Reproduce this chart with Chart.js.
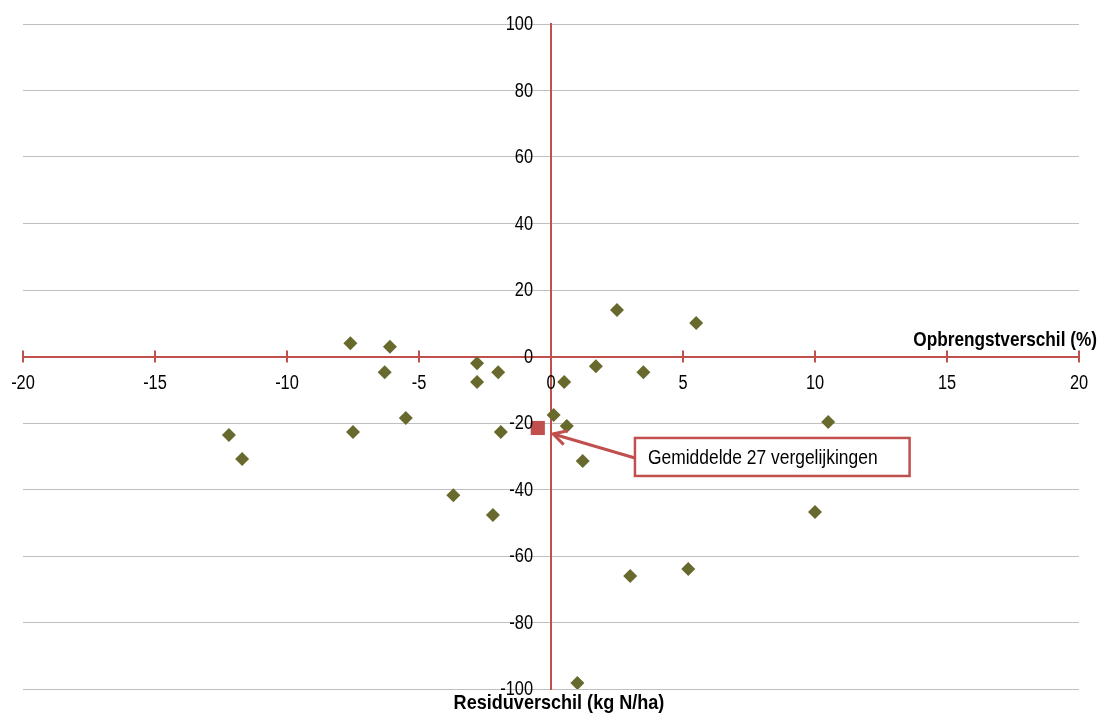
<!DOCTYPE html>
<html>
<head>
<meta charset="utf-8">
<script src="https://cdn.jsdelivr.net/npm/chart.js@4.4.0/dist/chart.umd.min.js"></script>
<style>
  html, body { margin: 0; padding: 0; background: #fff; }
  #wrap { width: 1102px; height: 715px; }
</style>
</head>
<body>
<div id="wrap"><canvas id="scatter"></canvas></div>
<script>
// Opbrengstverschil (%) vs Residuverschil (kg N/ha)
const xValues = [-7.6, -6.1, -6.3, -2.8, -2.8, -2.0, -12.2, -11.7, -7.5, -5.5, -1.9, -3.7, -2.2,
                 0.5, 1.7, 2.5, 3.5, 5.5, 0.1, 0.6, 1.2, 10.5, 10.0, 3.0, 5.2, 1.0];
const yValues = [4.0, 2.9, -4.7, -2.0, -7.7, -4.7, -23.6, -30.8, -22.7, -18.5, -22.7, -41.7, -47.7,
                 -7.7, -2.9, 14.0, -4.7, 10.1, -17.6, -20.9, -31.4, -19.7, -46.8, -66.0, -63.9, -98.2];
const meanX = -0.5;
const meanY = -21.5;
const xTicks = [-20, -15, -10, -5, 0, 5, 10, 15, 20];
const yTicks = [-100, -80, -60, -40, -20, 0, 20, 40, 60, 80, 100];

const xTitle = "Opbrengstverschil (%)";
const yTitle = "Residuverschil (kg N/ha)";
const noteText = "Gemiddelde 27 vergelijkingen";

const red = "#c0504d";
const olive = "#676a2c";
const fontFam = "'Liberation Sans', Arial, sans-serif";

const points = xValues.map((x, i) => ({ x: x, y: yValues[i] }));

// no narrow font installed, so squeeze the text horizontally
function narrowText(ctx, text, x, y, align, font, sx) {
  ctx.save();
  ctx.font = font;
  ctx.textAlign = align;
  ctx.textBaseline = "middle";
  ctx.translate(x, y);
  ctx.scale(sx, 1);
  ctx.fillText(text, 0, 0);
  ctx.restore();
}

// tick marks, tick labels, axis titles and the callout
const extras = {
  id: "extras",
  afterDraw(chart) {
    const ctx = chart.ctx;
    const xs = chart.scales.x, ys = chart.scales.y;
    const y0 = ys.getPixelForValue(0);
    const x0 = xs.getPixelForValue(0);
    ctx.save();
    ctx.strokeStyle = red;
    ctx.lineWidth = 2;
    xTicks.forEach(v => {
      const px = xs.getPixelForValue(v);
      ctx.beginPath();
      ctx.moveTo(px, y0 - 6);
      ctx.lineTo(px, y0 + 6);
      ctx.stroke();
    });

    ctx.fillStyle = "#000";
    const tickFont = "19.5px " + fontFam;
    xTicks.forEach(v => {
      narrowText(ctx, String(v), xs.getPixelForValue(v), y0 + 27, "center", tickFont, 0.84);
    });
    yTicks.forEach(v => {
      narrowText(ctx, String(v), x0 - 18, ys.getPixelForValue(v) + 1, "right", tickFont, 0.84);
    });

    // axis titles
    const titleFont = "bold 21px " + fontFam;
    narrowText(ctx, xTitle, chart.width - 5, y0 - 16, "right", titleFont, 0.82);
    narrowText(ctx, yTitle, x0 + 8, ys.bottom + 14, "center", titleFont, 0.86);

    // callout box + arrow
    const bx = xs.getPixelForValue(3.18);
    const by = ys.getPixelForValue(-24.5);
    const noteFont = "21px " + fontFam;
    ctx.font = noteFont;
    const tw = ctx.measureText(noteText).width * 0.83;
    const bw = tw + 45, bh = 38;
    ctx.fillStyle = "#fff";
    ctx.fillRect(bx, by, bw, bh);
    ctx.lineWidth = 2.5;
    ctx.strokeRect(bx, by, bw, bh);
    ctx.fillStyle = "#000";
    narrowText(ctx, noteText, bx + 13, by + bh / 2 + 1, "left", noteFont, 0.83);

    const tx = xs.getPixelForValue(0.08), ty = ys.getPixelForValue(-23.3);
    const sx = bx, sy = by + 20;
    const ang = Math.atan2(ty - sy, tx - sx);
    ctx.lineWidth = 3;
    ctx.beginPath();
    ctx.moveTo(sx, sy);
    ctx.lineTo(tx, ty);
    ctx.stroke();
    ctx.beginPath();
    ctx.moveTo(tx - 15 * Math.cos(ang - 0.5), ty - 15 * Math.sin(ang - 0.5));
    ctx.lineTo(tx, ty);
    ctx.lineTo(tx - 15 * Math.cos(ang + 0.5), ty - 15 * Math.sin(ang + 0.5));
    ctx.stroke();
    ctx.restore();
  }
};

new Chart(document.getElementById("scatter"), {
  type: "scatter",
  data: {
    datasets: [
      {
        label: "Vergelijkingen",
        data: points,
        pointStyle: "rectRot",
        pointRadius: 7,
        backgroundColor: olive,
        borderColor: olive,
        borderWidth: 0
      },
      {
        label: "Gemiddelde",
        data: [{ x: meanX, y: meanY }],
        pointStyle: "rect",
        pointRadius: 10,
        backgroundColor: red,
        borderColor: red,
        borderWidth: 0
      }
    ]
  },
  options: {
    responsive: true,
    maintainAspectRatio: false,
    animation: false,
    layout: { padding: { left: 23, right: 23, top: 24, bottom: 26 } },
    plugins: {
      legend: { display: false },
      tooltip: { enabled: false }
    },
    scales: {
      x: {
        type: "linear",
        min: -20,
        max: 20,
        position: { y: 0 },
        grid: { display: false, drawTicks: false },
        border: { display: true, color: red, width: 2 },
        afterBuildTicks: axis => { axis.ticks = xTicks.map(v => ({ value: v })); },
        ticks: { display: false }
      },
      y: {
        type: "linear",
        min: -100,
        max: 100,
        position: { x: 0 },
        grid: { color: "#bfbfbf", lineWidth: 1, drawTicks: false },
        border: { display: true, color: red, width: 2 },
        afterBuildTicks: axis => { axis.ticks = yTicks.map(v => ({ value: v })); },
        ticks: { display: false }
      }
    }
  },
  plugins: [extras]
});
</script>
</body>
</html>
